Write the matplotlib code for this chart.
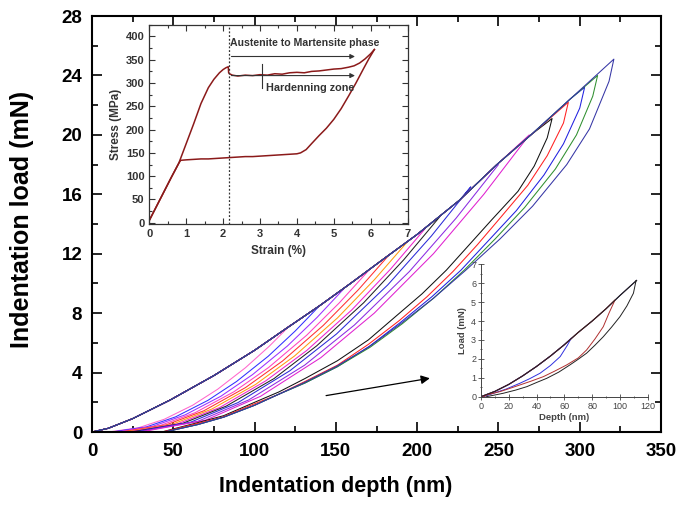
import matplotlib
matplotlib.use("Agg")
import matplotlib.pyplot as plt
from matplotlib.ticker import MultipleLocator

plt.rcParams['font.family'] = ['Liberation Sans', 'DejaVu Sans']

# ---------------- main data ----------------
env_depth = [0, 10, 25, 48, 75, 100, 118, 140, 159, 180, 200, 226, 249, 270, 294, 321]
env_load = [0, 0.25, 0.9, 2.15, 3.8, 5.5, 6.86, 8.5, 10.0, 11.7, 13.3, 15.6, 18.0, 20.0, 22.4, 25.1]

loop_colors = ['#3535a5', '#2f8f2f', '#2020e0', '#ff2020', '#111111',
               '#e020d0', '#8a2be2', '#2a2ad8', '#222222', '#ee22cc',
               '#ff9a10', '#ff3030', '#ff40c0', '#9a30ff', '#3030ff', '#ff66cc']

unload_depth = [
    [321, 318, 306, 292, 271, 251, 230, 210, 190, 170, 150, 130, 114, 100, 81, 65, 50, 45],
    [311, 308, 298, 285, 266, 248, 229, 210, 191, 171, 151, 131, 114, 100, 81, 65, 50, 45],
    [303, 300, 290, 278, 261, 244, 227, 209, 190, 171, 151, 131, 114, 100, 81, 65, 50, 44],
    [293, 290, 280, 268, 251, 237, 222, 206, 189, 170, 151, 131, 114, 100, 80, 64, 49, 43],
    [283, 280, 272, 262, 246, 232, 218, 203, 187, 170, 151, 131, 115, 100, 81, 64, 49, 43],
    [269, 241, 210, 173.6, 140.7, 103.6, 69.9, 30],
    [250, 224, 195.2, 161.4, 130.8, 96.4, 65.1, 28],
    [233, 208.8, 181.9, 150.4, 121.8, 89.8, 60.6, 26],
    [214, 191.8, 167.1, 138.2, 112, 82.5, 55.7, 24],
    [205, 183.6, 159.8, 132, 106.7, 78.4, 52.6, 22],
    [194, 173.6, 151, 124.6, 100.6, 73.6, 49.1, 20],
    [183, 163.7, 142.2, 117.2, 94.4, 68.8, 45.6, 18],
    [170, 152, 132, 108.6, 87.3, 63.4, 41.7, 16],
    [155, 138.5, 120.2, 98.7, 79.3, 57.4, 37.5, 14],
    [140, 125, 108.4, 88.9, 71.3, 51.4, 33.4, 12],
    [122, 108.9, 94.3, 77.3, 61.9, 44.5, 28.7, 10],
]
unload_load = [
    [25.1, 23.6, 20.4, 18.0, 15.2, 13.0, 10.9, 9.0, 7.3, 5.7, 4.4, 3.3, 2.5, 1.8, 1.0, 0.5, 0.13, 0],
    [24.0, 22.6, 20.0, 17.7, 15.1, 13.0, 10.9, 9.0, 7.3, 5.7, 4.4, 3.3, 2.5, 1.8, 1.0, 0.5, 0.13, 0],
    [23.2, 21.8, 19.4, 17.3, 14.9, 12.9, 10.9, 9.1, 7.4, 5.8, 4.4, 3.3, 2.5, 1.8, 1.0, 0.5, 0.13, 0],
    [22.2, 20.8, 18.6, 16.6, 14.4, 12.6, 10.8, 9.1, 7.5, 5.9, 4.5, 3.4, 2.5, 1.9, 1.0, 0.55, 0.15, 0],
    [21.1, 19.8, 17.9, 16.2, 14.3, 12.6, 10.9, 9.3, 7.8, 6.2, 4.8, 3.6, 2.7, 2.0, 1.1, 0.6, 0.18, 0],
    [20.0, 16.0, 12.0, 8.0, 5.0, 2.4, 0.8, 0],
    [18.0, 14.4, 10.8, 7.2, 4.5, 2.16, 0.72, 0],
    [16.5, 13.2, 9.9, 6.6, 4.13, 1.98, 0.66, 0],
    [14.5, 11.6, 8.7, 5.8, 3.6, 1.74, 0.58, 0],
    [13.7, 10.96, 8.22, 5.48, 3.43, 1.64, 0.55, 0],
    [12.8, 10.24, 7.68, 5.12, 3.2, 1.54, 0.51, 0],
    [11.95, 9.56, 7.17, 4.78, 2.99, 1.43, 0.48, 0],
    [10.85, 8.68, 6.51, 4.34, 2.71, 1.3, 0.43, 0],
    [9.65, 7.72, 5.79, 3.86, 2.41, 1.16, 0.39, 0],
    [8.5, 6.8, 5.1, 3.4, 2.13, 1.02, 0.34, 0],
    [7.2, 5.76, 4.32, 2.88, 1.8, 0.86, 0.29, 0],
]

arrow_start = (142.3, 2.42)
arrow_end = (209.5, 3.65)

# ---------------- inset 1 data (stress-strain) ----------------
ss_load_strain = [0, 0.2, 0.4, 0.6, 0.8, 1.0, 1.2, 1.4, 1.6, 1.75, 1.9, 2.0, 2.08, 2.14, 2.15,
                  2.17, 2.25, 2.4, 2.6, 2.8, 3.0, 3.2, 3.4, 3.6, 3.8, 4.0, 4.2, 4.4, 4.6, 4.8,
                  5.0, 5.2, 5.4, 5.55, 5.7, 5.85, 6.0, 6.1]
ss_load_stress = [5, 36, 67, 98, 128, 170, 212, 256, 290, 308, 322, 329, 333, 335, 322,
                  320, 317, 315, 317, 316, 318, 317, 320, 319, 322, 323, 322, 325, 326, 328,
                  330, 331, 334, 337, 343, 352, 363, 372]
ss_unload_strain = [6.1, 5.95, 5.8, 5.6, 5.4, 5.2, 5.0, 4.8, 4.6, 4.4, 4.25, 4.1, 4.0, 3.8,
                    3.6, 3.4, 3.2, 3.0, 2.8, 2.6, 2.4, 2.2, 2.0, 1.8, 1.6, 1.4, 1.2, 1.0,
                    0.85, 0.8, 0.6, 0.4, 0.2, 0]
ss_unload_stress = [372, 352, 330, 300, 272, 245, 222, 203, 187, 170, 157, 150, 148, 147,
                    146, 145, 144, 143, 142, 142, 141, 140, 139, 138, 137, 137, 136, 135,
                    134, 128, 98, 67, 36, 5]

# ---------------- inset 2 data (small loops) ----------------
small_load_depth = [0, 10, 20, 30, 40, 50, 60, 70, 80, 90, 100, 112]
small_load_load = [0, 0.28, 0.65, 1.1, 1.6, 2.15, 2.75, 3.4, 4.0, 4.65, 5.35, 6.15]
small_blue_depth = [65, 62, 57, 50, 42.5, 35, 28, 18, 9, 2]
small_blue_load = [3.1, 2.7, 2.12, 1.65, 1.24, 0.95, 0.71, 0.4, 0.18, 0]
small_red_depth = [96.5, 92, 88, 82, 76, 70, 61.7, 53, 44.9, 36, 28, 20, 13.7, 4.1, 2]
small_red_load = [5.12, 4.4, 3.7, 3.05, 2.47, 2.05, 1.68, 1.35, 1.06, 0.82, 0.62, 0.42, 0.27, 0.09, 0]
small_black_depth = [111.6, 109.7, 105, 100, 94, 88, 82, 76, 70, 64, 56, 47.3, 40, 33, 25, 16, 8, 4]
small_black_load = [6.14, 5.47, 4.8, 4.23, 3.68, 3.17, 2.72, 2.3, 1.98, 1.68, 1.3, 0.97, 0.75,
                    0.53, 0.35, 0.18, 0.06, 0]

# ---------------- figure ----------------
fig = plt.figure(figsize=(6.85, 5.07), dpi=100)
ax = fig.add_axes([0.1343, 0.1479, 0.8307, 0.8205])

loops = list(zip(loop_colors, unload_depth, unload_load))
for col, ud, ul in loops[::-1]:
    hm, pm = ud[0], ul[0]
    lh = [h for h in env_depth if h < hm]
    lp = env_load[:len(lh)]
    ax.plot(lh + ud, lp + ul, color=col, lw=0.75)

ax.annotate('', xy=arrow_end, xytext=arrow_start,
            arrowprops=dict(arrowstyle='-|>', color='black', lw=0.9, mutation_scale=13))

ax.set_xlim(0, 350)
ax.set_ylim(0, 28)
ax.xaxis.set_major_locator(MultipleLocator(50))
ax.xaxis.set_minor_locator(MultipleLocator(25))
ax.yaxis.set_major_locator(MultipleLocator(4))
ax.yaxis.set_minor_locator(MultipleLocator(2))
ax.tick_params(which='both', direction='in', top=True, right=True, width=1.2)
ax.tick_params(which='major', length=7, labelsize=13.5)
ax.tick_params(which='minor', length=4)
ax.tick_params(axis='x', pad=8)
ax.tick_params(axis='y', pad=7)
for lab in ax.get_xticklabels() + ax.get_yticklabels():
    lab.set_fontweight('bold')
for s in ax.spines.values():
    s.set_linewidth(1.5)
ax.set_xlabel('Indentation depth (nm)', fontsize=15.5, fontweight='bold')
ax.set_ylabel('Indentation load (mN)', fontsize=18, fontweight='bold')
ax.xaxis.set_label_coords(0.429, -0.1315)
ax.yaxis.set_label_coords(-0.123, 0.51)
ax.xaxis.label.set_va('center')
ax.yaxis.label.set_va('center')

# ---------------- inset 1 ----------------
gray = '#333333'
ax1 = fig.add_axes([0.218, 0.558, 0.377, 0.393])
red = '#8b1a1a'
ax1.plot(ss_load_strain, ss_load_stress, color=red, lw=1.1)
ax1.plot(ss_unload_strain, ss_unload_stress, color=red, lw=1.1)
ax1.set_xlim(0, 7)
ax1.set_ylim(-3, 425)
ax1.axvline(2.15, color='#333333', lw=0.9, ls=(0, (1.5, 1.5)))
ax1.annotate('', xy=(5.65, 357), xytext=(2.15, 357),
             arrowprops=dict(arrowstyle='-|>', color='#333333', lw=0.8, mutation_scale=7))
ax1.annotate('', xy=(5.65, 316), xytext=(2.15, 316),
             arrowprops=dict(arrowstyle='-|>', color='#333333', lw=0.8, mutation_scale=7))
ax1.plot([3.05, 3.05], [289, 340], color='#333333', lw=0.8)
ax1.text(2.2, 386, 'Austenite to Martensite phase', fontsize=7.6, fontweight='bold',
         color=gray, ha='left', va='center')
ax1.text(3.15, 289, 'Hardenning zone', fontsize=7.8, fontweight='bold',
         color=gray, ha='left', va='center')
ax1.xaxis.set_major_locator(MultipleLocator(1))
ax1.xaxis.set_minor_locator(MultipleLocator(0.5))
ax1.yaxis.set_major_locator(MultipleLocator(50))
ax1.yaxis.set_minor_locator(MultipleLocator(25))
ax1.tick_params(which='both', direction='in', top=True, right=True, width=0.8,
                colors=gray, labelsize=8)
ax1.tick_params(which='major', length=4)
ax1.tick_params(which='minor', length=2)
for lab in ax1.get_xticklabels() + ax1.get_yticklabels():
    lab.set_fontweight('bold')
for s in ax1.spines.values():
    s.set_linewidth(0.9)
    s.set_color(gray)
ax1.set_xlabel('Strain (%)', fontsize=8.5, fontweight='bold', color=gray, labelpad=4)
ax1.set_ylabel('Stress (MPa)', fontsize=8.5, fontweight='bold', color=gray, labelpad=3)

# ---------------- inset 2 ----------------
ax2 = fig.add_axes([0.7022, 0.2176, 0.2434, 0.2611])
ax2.patch.set_alpha(0)
ax2.plot(small_load_depth, small_load_load, color='#221144', lw=0.8)
ax2.plot(small_load_depth[:7] + small_blue_depth, small_load_load[:7] + small_blue_load,
         color='#3030e0', lw=0.7)
ax2.plot(small_load_depth[:10] + small_red_depth, small_load_load[:10] + small_red_load,
         color='#b03030', lw=0.7)
ax2.plot(small_load_depth + small_black_depth, small_load_load + small_black_load,
         color='#222222', lw=0.7)
ax2.set_xlim(0, 120)
ax2.set_ylim(0, 7)
ax2.spines['top'].set_visible(False)
ax2.spines['right'].set_visible(False)
for s in ['left', 'bottom']:
    ax2.spines[s].set_linewidth(0.7)
    ax2.spines[s].set_color('#444444')
ax2.xaxis.set_major_locator(MultipleLocator(20))
ax2.xaxis.set_minor_locator(MultipleLocator(10))
ax2.yaxis.set_major_locator(MultipleLocator(1))
ax2.yaxis.set_minor_locator(MultipleLocator(0.5))
ax2.tick_params(which='both', direction='inout', width=0.6, colors='#444444', labelsize=6.5, pad=1.5)
ax2.tick_params(which='major', length=4)
ax2.tick_params(which='minor', length=2)
ax2.set_xlabel('Depth (nm)', fontsize=6.8, fontweight='bold', color='#444444', labelpad=2)
ax2.set_ylabel('Load (mN)', fontsize=6.8, fontweight='bold', color='#444444', labelpad=3)

fig.savefig('out.png', dpi=100)
